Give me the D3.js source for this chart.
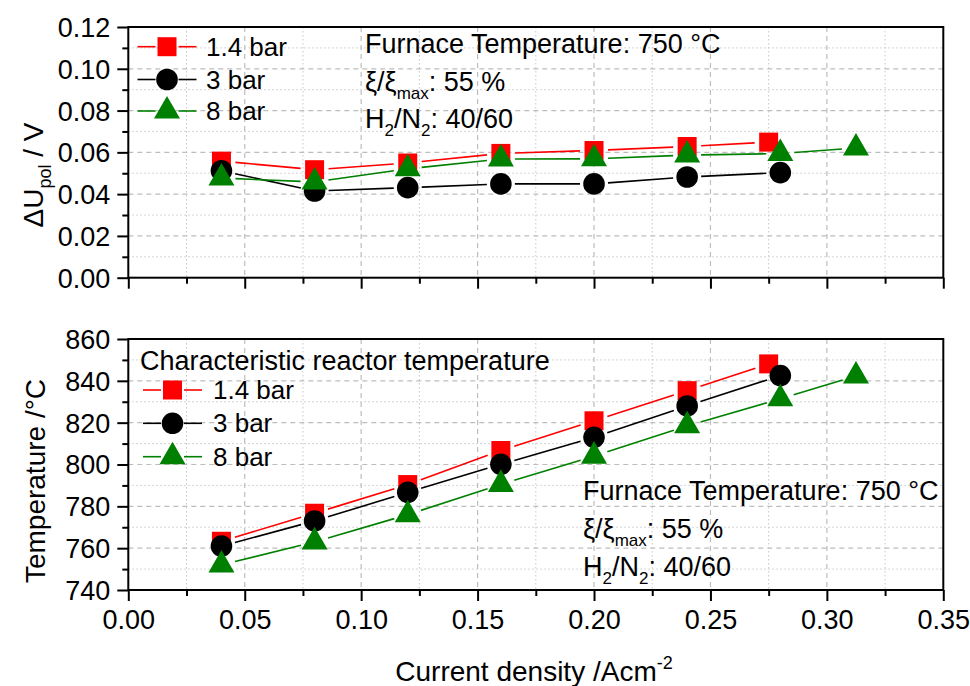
<!DOCTYPE html>
<html>
<head>
<meta charset="utf-8">
<script src="https://cdn.jsdelivr.net/npm/d3@7"></script>
<style>
  html, body { margin: 0; padding: 0; background: #fff; }
  svg { display: block; font-family: "Liberation Sans", Arial, sans-serif; }
</style>
</head>
<body>
<svg id="chart" width="970" height="686"></svg>
<script>
// ---------------- data ----------------
const seriesNames = ["1.4 bar", "3 bar", "8 bar"];
const x14 = [0.04, 0.08, 0.12, 0.16, 0.20, 0.24, 0.275];
const x3  = [0.04, 0.08, 0.12, 0.16, 0.20, 0.24, 0.28];
const x8  = [0.04, 0.08, 0.12, 0.16, 0.20, 0.24, 0.28, 0.3125];
// top panel: polarisation voltage difference / V
const dU14 = [0.0558, 0.0517, 0.0549, 0.0595, 0.0609, 0.0628, 0.0649];
const dU3  = [0.0512, 0.0415, 0.0431, 0.0449, 0.0449, 0.0482, 0.0503];
const dU8  = [0.0477, 0.0458, 0.0521, 0.0568, 0.0569, 0.0587, 0.0594, 0.0621];
// bottom panel: characteristic reactor temperature / °C
const T14 = [763.3, 776.7, 790.4, 806.7, 820.9, 835.3, 848.1];
const T3  = [761.0, 773.0, 786.7, 800.1, 813.0, 828.0, 842.5];
const T8  = [752.0, 763.0, 776.0, 790.5, 804.0, 818.5, 831.4, 842.3];
// ticks
const xTicks = [0.00, 0.05, 0.10, 0.15, 0.20, 0.25, 0.30, 0.35];
const xMinor = [0.025, 0.075, 0.125, 0.175, 0.225, 0.275, 0.325];
const yTopTicks = [0.00, 0.02, 0.04, 0.06, 0.08, 0.10, 0.12];
const yTopMinor = [0.01, 0.03, 0.05, 0.07, 0.09, 0.11];
const yBotTicks = [740, 760, 780, 800, 820, 840, 860];
const yBotMinor = [750, 770, 790, 810, 830, 850];

// ---------------- layout ----------------
const svg = d3.select("#chart");
const L = 128.3, R = 943.3;
const top1 = 27, bot1 = 277.7;
const top2 = 339, bot2 = 590;
const colors = ["#ff0000", "#000000", "#008000"];
const symbols = [d3.symbolSquare, d3.symbolCircle, d3.symbolTriangle];
const symSizes = [361, 366, 293];
const FONT = "Liberation Sans, Arial, sans-serif";

const x = d3.scaleLinear().domain([0, 0.35]).range([L, R]);
const yTop = d3.scaleLinear().domain([0, 0.12]).range([bot1, top1]);
const yBot = d3.scaleLinear().domain([740, 860]).range([bot2, top2]);

function panel(y, yMaj, yMin, top, bot, yFmt, xLabels, series) {
  const g = svg.append("g");
  // minor grid
  g.append("g").selectAll("line.xm").data(xMinor).join("line")
    .attr("x1", d => x(d)).attr("x2", d => x(d)).attr("y1", top).attr("y2", bot)
    .attr("stroke", "#c8c8c8").attr("stroke-width", 1).attr("stroke-dasharray", "1.5,2.5");
  g.append("g").selectAll("line.ym").data(yMin).join("line")
    .attr("x1", L).attr("x2", R).attr("y1", d => y(d)).attr("y2", d => y(d))
    .attr("stroke", "#c8c8c8").attr("stroke-width", 1).attr("stroke-dasharray", "1.5,2.5");
  // major grid
  g.append("g").selectAll("line.xM").data(xTicks.slice(1, -1)).join("line")
    .attr("x1", d => x(d)).attr("x2", d => x(d)).attr("y1", top).attr("y2", bot)
    .attr("stroke", "#bdbdbd").attr("stroke-width", 1.2).attr("stroke-dasharray", "5,4");
  g.append("g").selectAll("line.yM").data(yMaj.slice(1, -1)).join("line")
    .attr("x1", L).attr("x2", R).attr("y1", d => y(d)).attr("y2", d => y(d))
    .attr("stroke", "#bdbdbd").attr("stroke-width", 1.2).attr("stroke-dasharray", "5,4");

  // axes
  const xa = g.append("g").attr("transform", `translate(0,${bot})`)
    .call(d3.axisBottom(x).tickValues(xTicks).tickSize(11).tickSizeOuter(0)
      .tickFormat(xLabels ? d3.format(".2f") : () => ""));
  const xm = g.append("g").attr("transform", `translate(0,${bot})`)
    .call(d3.axisBottom(x).tickValues(xMinor).tickSize(6).tickSizeOuter(0).tickFormat(() => ""));
  const ya = g.append("g").attr("transform", `translate(${L},0)`)
    .call(d3.axisLeft(y).tickValues(yMaj).tickSize(11).tickSizeOuter(0).tickFormat(yFmt));
  const ym = g.append("g").attr("transform", `translate(${L},0)`)
    .call(d3.axisLeft(y).tickValues(yMin).tickSize(6).tickSizeOuter(0).tickFormat(() => ""));
  [xa, xm, ya, ym].forEach(a => {
    a.selectAll(".domain").remove();
    a.selectAll(".tick line").attr("stroke", "#000").attr("stroke-width", 2);
    a.selectAll(".tick text").attr("fill", "#000").style("font-size", "27px").style("font-family", FONT);
  });
  xa.selectAll(".tick text").attr("dy", null).attr("y", 39);
  ya.selectAll(".tick text").attr("x", -18).attr("dy", "0.35em");

  // frame
  g.append("rect").attr("x", L).attr("y", top).attr("width", R - L).attr("height", bot - top)
    .attr("fill", "none").attr("stroke", "#000").attr("stroke-width", 2);

  // data lines (with gaps around the symbols)
  const gap = 14;
  series.forEach((s, k) => {
    const pts = s.xs.map((v, i) => [x(v), y(s.ys[i])]);
    const segs = [];
    for (let i = 0; i < pts.length - 1; i++) {
      const [x1, y1] = pts[i], [x2, y2] = pts[i + 1];
      const dx = x2 - x1, dy = y2 - y1, len = Math.hypot(dx, dy);
      if (len <= 2 * gap) continue;
      const ux = dx / len, uy = dy / len;
      segs.push([[x1 + ux * gap, y1 + uy * gap], [x2 - ux * gap, y2 - uy * gap]]);
    }
    g.append("g").selectAll("path").data(segs).join("path")
      .attr("d", d => d3.line()(d)).attr("fill", "none")
      .attr("stroke", colors[k]).attr("stroke-width", 1.6);
  });
  // symbols
  series.forEach((s, k) => {
    g.append("g").selectAll("path").data(s.xs.map((v, i) => [v, s.ys[i]])).join("path")
      .attr("transform", d => `translate(${x(d[0])},${y(d[1])})`)
      .attr("d", d3.symbol().type(symbols[k]).size(symSizes[k]))
      .attr("fill", colors[k]);
  });
  return g;
}

panel(yTop, yTopTicks, yTopMinor, top1, bot1, d3.format(".2f"), false, [
  { xs: x14, ys: dU14 }, { xs: x3, ys: dU3 }, { xs: x8, ys: dU8 }
]);
panel(yBot, yBotTicks, yBotMinor, top2, bot2, d3.format("d"), true, [
  { xs: x14, ys: T14 }, { xs: x3, ys: T3 }, { xs: x8, ys: T8 }
]);

// ---------------- legends ----------------
function legend(x0, textX, rowsY, fs) {
  seriesNames.forEach((name, k) => {
    const cy = rowsY[k];
    const g = svg.append("g");
    g.append("line").attr("x1", x0).attr("x2", x0 + 18).attr("y1", cy).attr("y2", cy)
      .attr("stroke", colors[k]).attr("stroke-width", 1.6);
    g.append("line").attr("x1", x0 + 41).attr("x2", x0 + 59).attr("y1", cy).attr("y2", cy)
      .attr("stroke", colors[k]).attr("stroke-width", 1.6);
    g.append("path").attr("transform", `translate(${x0 + 29.5},${cy})`)
      .attr("d", d3.symbol().type(symbols[k]).size(symSizes[k])).attr("fill", colors[k]);
    g.append("text").attr("x", textX).attr("y", cy).attr("dy", "0.35em")
      .style("font-size", fs + "px").attr("fill", "#000").text(name);
  });
}
legend(137.5, 206, [46.7, 79.5, 111], 26);
svg.append("text").attr("x", 140).attr("y", 370).style("font-size", "27px")
  .text("Characteristic reactor temperature");
legend(143, 213, [390, 423.3, 456.7], 26);

// ---------------- annotations ----------------
function annot(x0, ys) {
  const fs = 27;
  svg.append("text").attr("x", x0).attr("y", ys[0]).style("font-size", fs + "px")
    .text("Furnace Temperature: 750 °C");
  const t2 = svg.append("text").attr("x", x0).attr("y", ys[1]).style("font-size", fs + "px");
  t2.append("tspan").text("ξ/ξ");
  t2.append("tspan").attr("dy", 8).style("font-size", "17px").text("max");
  t2.append("tspan").attr("dy", -8).text(": 55 %");
  const t3 = svg.append("text").attr("x", x0).attr("y", ys[2]).style("font-size", fs + "px");
  t3.append("tspan").text("H");
  t3.append("tspan").attr("dy", 8).style("font-size", "17px").text("2");
  t3.append("tspan").attr("dy", -8).text("/N");
  t3.append("tspan").attr("dy", 8).style("font-size", "17px").text("2");
  t3.append("tspan").attr("dy", -8).text(": 40/60");
}
annot(365, [53.3, 90.5, 128.3]);
annot(583, [500, 537.5, 576]);

// ---------------- axis titles ----------------
const yt1 = svg.append("text").attr("transform", "translate(43,175) rotate(-90)")
  .attr("text-anchor", "middle").style("font-size", "28px");
yt1.append("tspan").text("ΔU");
yt1.append("tspan").attr("dy", 8).style("font-size", "18px").text("pol");
yt1.append("tspan").attr("dy", -8).text(" / V");

svg.append("text").attr("transform", "translate(45,481) rotate(-90)")
  .attr("text-anchor", "middle").style("font-size", "28px").text("Temperature /°C");

const xt = svg.append("text").attr("x", 534).attr("y", 681)
  .attr("text-anchor", "middle").style("font-size", "28px");
xt.append("tspan").text("Current density /Acm");
xt.append("tspan").attr("dy", -12).style("font-size", "18px").text("-2");
</script>
</body>
</html>
